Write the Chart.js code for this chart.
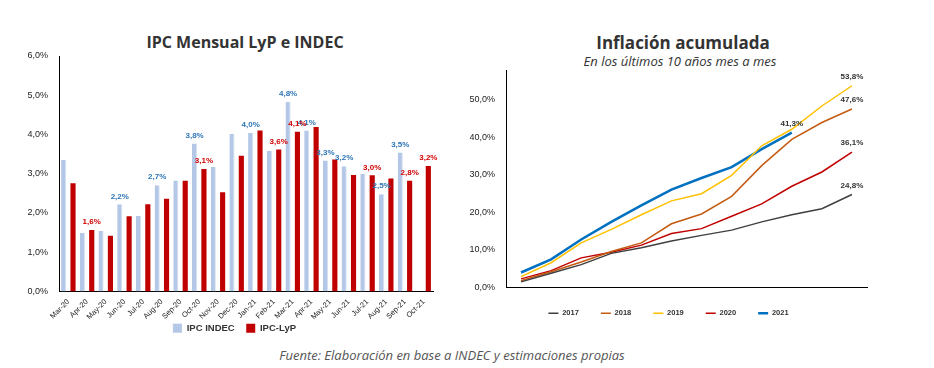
<!DOCTYPE html>
<html>
<head>
<meta charset="utf-8">
<script src="https://cdn.jsdelivr.net/npm/chart.js@4.4.1/dist/chart.umd.min.js"></script>
<style>
  body { margin:0; background:#fff; width:934px; height:368px; position:relative; overflow:hidden; font-family:"Open Sans", sans-serif; }
  .t { position:absolute; color:#333; white-space:nowrap; transform:translateX(-50%); }
  #c1 { position:absolute; left:20px; top:46px; }
  #c2 { position:absolute; left:460px; top:60px; }
</style>
</head>
<body>
<div class="t" style="left:245px; top:31px; font-size:16px; font-weight:700;">IPC Mensual LyP e INDEC</div>
<div class="t" style="left:683px; top:31px; font-size:17px; font-weight:700;">Inflación acumulada</div>
<div class="t" style="left:680px; top:52px; font-size:13px; font-style:italic;">En los últimos 10 años mes a mes</div>
<div class="t" style="left:452px; top:346px; font-size:13px; font-style:italic; color:#555;">Fuente: Elaboración en base a INDEC y estimaciones propias</div>
<canvas id="c1" width="425" height="295"></canvas>
<canvas id="c2" width="420" height="268"></canvas>
<script>
// ---- IPC mensual ----
var meses = ["Mar-20","Apr-20","May-20","Jun-20","Jul-20","Aug-20","Sep-20","Oct-20","Nov-20","Dec-20",
             "Jan-21","Feb-21","Mar-21","Apr-21","May-21","Jun-21","Jul-21","Aug-21","Sep-21","Oct-21"];
var ipcIndec = [3.35,1.50,1.54,2.22,1.93,2.71,2.83,3.77,3.17,4.01,4.04,3.58,4.83,4.10,3.34,3.19,3.00,2.48,3.54,null];
var ipcLyp   = [2.76,1.57,1.42,1.92,2.22,2.36,2.82,3.12,2.53,3.46,4.10,3.62,4.07,4.19,3.36,2.97,2.96,2.88,2.82,3.20];
var indecLabeled = [3,5,7,10,12,13,14,15,17,18];
var lypLabeled = [1,7,11,12,16,18,19];

// ---- inflacion acumulada ----
var meses2 = ["Ene","Feb","Mar","Abr","May","Jun","Jul","Ago","Sep","Oct","Nov","Dic"];
var acum2017 = [1.5,3.8,6.1,9.1,10.6,12.4,13.9,15.3,17.5,19.4,21.0,24.8];
var acum2018 = [1.8,4.2,6.8,9.6,11.9,17.0,19.6,24.3,32.5,39.5,44.0,47.6];
var acum2019 = [2.9,6.6,11.9,15.5,19.4,23.1,25.0,29.9,37.8,42.2,48.4,53.8];
var acum2020 = [2.3,4.5,7.9,9.4,11.3,14.4,15.7,19.0,22.3,27.0,30.8,36.1];
var acum2021 = [4.0,7.5,12.8,17.5,21.9,26.1,29.2,32.1,36.9,41.3];

Chart.defaults.font.family = "'Liberation Sans', Arial, sans-serif";
Chart.defaults.color = '#222';

function pct(v) { return v.toFixed(1).replace('.', ',') + '%'; }

// draws value text over the points listed in dataset.labelIdx
var valueLabels = {
  id: 'valueLabels',
  afterDatasetsDraw: function(chart) {
    var ctx = chart.ctx;
    chart.data.datasets.forEach(function(ds, i) {
      if (!ds.labelIdx) return;
      var meta = chart.getDatasetMeta(i);
      ctx.save();
      ctx.font = 'bold ' + (ds.labelSize || 8) + "px 'Liberation Sans', Arial";
      ctx.fillStyle = ds.labelColor;
      ctx.textAlign = 'center';
      ctx.textBaseline = 'bottom';
      ds.labelIdx.forEach(function(k) {
        var el = meta.data[k];
        ctx.fillText(pct(ds.data[k]), el.x, el.y - (ds.labelGap || 4));
      });
      ctx.restore();
    });
  }
};

// moves the legend box a few px after layout
var nudgeLegend = {
  id: 'nudgeLegend',
  afterLayout: function(chart, args, opts) {
    var lg = chart.legend;
    if (!lg) return;
    lg.left += opts.dx || 0; lg.right += opts.dx || 0;
    lg.top += opts.dy || 0; lg.bottom += opts.dy || 0;
  }
};

new Chart(document.getElementById('c1'), {
  type: 'bar',
  data: {
    labels: meses,
    datasets: [
      // en spaces keep the gap between the two legend items
      { label: 'IPC INDEC\u2002\u2002', data: ipcIndec, backgroundColor: '#B4C7E7', borderColor: '#D5E0F2',
        borderWidth: {right: 1}, labelIdx: indecLabeled, labelColor: '#2E75B6' },
      { label: 'IPC-LyP', data: ipcLyp, backgroundColor: '#C00000',
        labelIdx: lypLabeled, labelColor: '#D00000' }
    ]
  },
  options: {
    responsive: false,
    animation: false,
    layout: { padding: { top: 10, right: 12, bottom: 0 } },
    datasets: { bar: { barPercentage: 0.55, categoryPercentage: 1 } },
    plugins: {
      legend: { position: 'bottom', labels: { boxWidth: 9, boxHeight: 9, padding: 2, font: { size: 9.5, weight: 'bold' }, color: '#333' } },
      nudgeLegend: { dx: 8, dy: 2 },
      tooltip: { enabled: false }
    },
    scales: {
      x: {
        grid: { display: false, drawTicks: true, tickLength: 4, offset: true, color: '#000' },
        border: { color: '#000' },
        ticks: { maxRotation: 45, minRotation: 45, font: { size: 7.5 }, padding: 2, autoSkip: false },
        afterFit: function(s) { s.height = 28; }
      },
      y: {
        min: 0, max: 6,
        grid: { display: false },
        border: { color: '#000' },
        ticks: { stepSize: 1, font: { size: 9 }, callback: function(v) { return pct(v); } },
        afterFit: function(s) { s.width = 39; }
      }
    }
  },
  plugins: [valueLabels, nudgeLegend]
});

new Chart(document.getElementById('c2'), {
  type: 'line',
  data: {
    labels: meses2,
    datasets: [
      { label: '2017', data: acum2017, borderColor: '#404040', borderWidth: 1.5,
        labelIdx: [11], labelColor: '#333', labelGap: 5 },
      { label: '2018', data: acum2018, borderColor: '#C55A11', borderWidth: 1.5,
        labelIdx: [11], labelColor: '#333', labelGap: 5 },
      { label: '2019', data: acum2019, borderColor: '#FFC000', borderWidth: 1.5,
        labelIdx: [11], labelColor: '#333', labelGap: 5 },
      { label: '2020', data: acum2020, borderColor: '#C00000', borderWidth: 1.5,
        labelIdx: [11], labelColor: '#333', labelGap: 5 },
      { label: '2021', data: acum2021, borderColor: '#0070C0', borderWidth: 2.5,
        labelIdx: [9], labelColor: '#333', labelGap: 5 }
    ]
  },
  options: {
    responsive: false,
    animation: false,
    layout: { padding: { top: 10, right: 13, bottom: 0 } },
    elements: { point: { radius: 0 }, line: { tension: 0 } },
    plugins: {
      legend: { position: 'bottom',
        labels: { usePointStyle: true, pointStyle: 'line', pointStyleWidth: 10, padding: 22,
                  font: { size: 7.5, weight: 'bold' }, color: '#333' } },
      nudgeLegend: { dx: 5, dy: -1 },
      tooltip: { enabled: false }
    },
    scales: {
      x: {
        offset: true,
        grid: { display: false },
        border: { color: '#000' },
        ticks: { font: { size: 9 }, maxRotation: 0, padding: 6 },
        afterFit: function(s) { s.height = 1; }
      },
      y: {
        min: 0, max: 58,
        grid: { display: false },
        border: { color: '#000' },
        ticks: { stepSize: 10, font: { size: 9 }, callback: function(v) { return v % 10 === 0 ? pct(v) : null; } },
        afterFit: function(s) { s.width = 46; }
      }
    }
  },
  plugins: [valueLabels, nudgeLegend]
});
</script>
</body>
</html>
